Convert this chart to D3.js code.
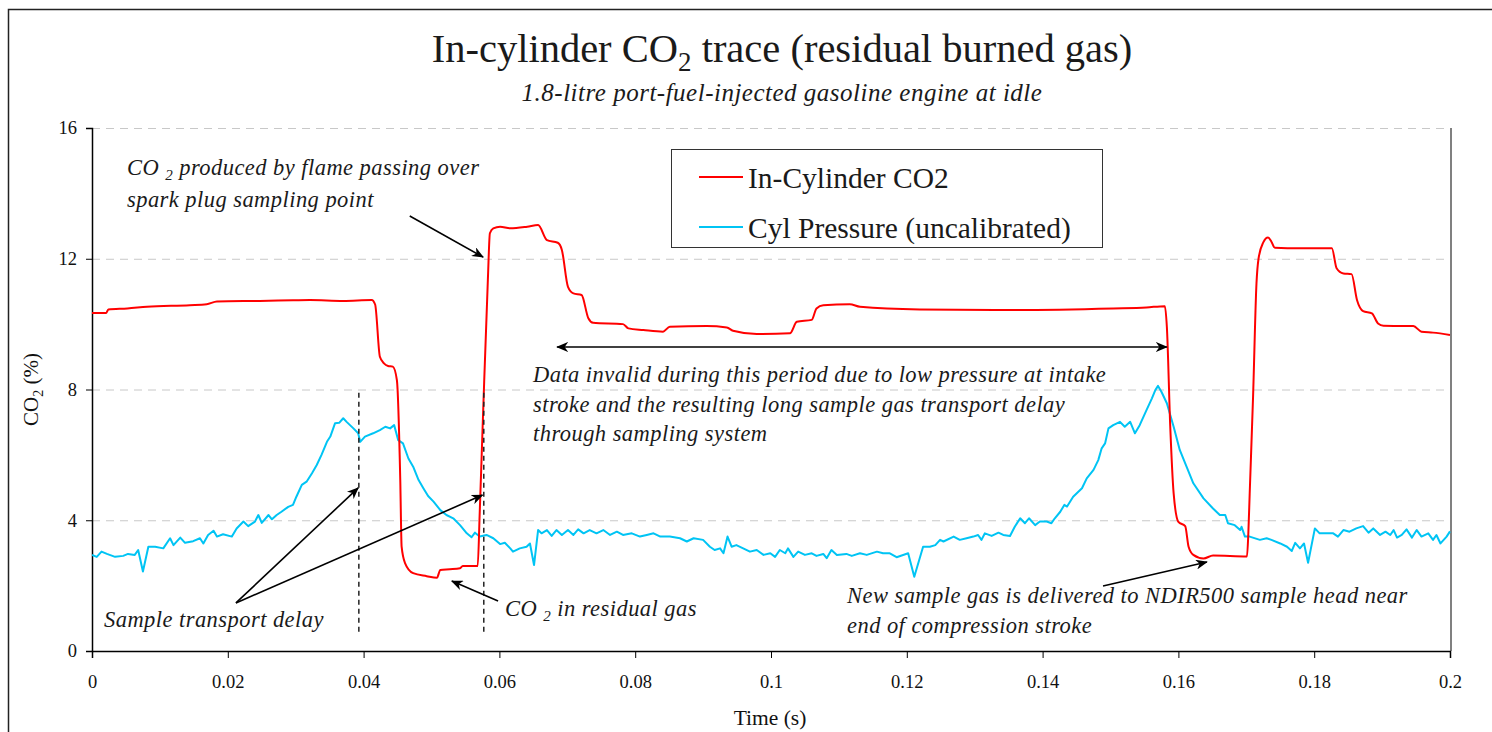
<!DOCTYPE html>
<html>
<head>
<meta charset="utf-8">
<script src="https://cdn.jsdelivr.net/npm/d3@7"></script>
<style>
  html, body { margin: 0; padding: 0; background: #fff; }
  svg { display: block; font-family: "Liberation Serif", "Times New Roman", serif; }
</style>
</head>
<body>
<svg id="chart" width="1492" height="732"></svg>
<script>
// ---------------- DATA ----------------
const xTicks = [0, 0.02, 0.04, 0.06, 0.08, 0.1, 0.12, 0.14, 0.16, 0.18, 0.2];
const xTickLabels = ["0", "0.02", "0.04", "0.06", "0.08", "0.1", "0.12", "0.14", "0.16", "0.18", "0.2"];
const yTicks = [0, 4, 8, 12, 16];
const yTickLabels = ["0", "4", "8", "12", "16"];

const seriesNames = ["In-Cylinder CO2", "Cyl Pressure (uncalibrated)"];

// In-cylinder CO2 (%) : time (s)
const co2Time = [0, 0.0021, 0.0024, 0.0052, 0.0081, 0.0144, 0.0169, 0.0184, 0.0247, 0.0296, 0.0321, 0.0370, 0.0412,
  0.0417, 0.0424, 0.0430, 0.0436, 0.0443, 0.0449, 0.0454, 0.0456, 0.0461, 0.0473, 0.0493, 0.0508, 0.0513, 0.0527,
  0.0542, 0.0546, 0.0568, 0.0571, 0.0576, 0.0583, 0.0586, 0.0591, 0.0601, 0.0616, 0.0641, 0.0657, 0.0670, 0.0686,
  0.0692, 0.0701, 0.0709, 0.0721, 0.0731, 0.0738, 0.0782, 0.0790, 0.0812, 0.0841, 0.0851, 0.0905, 0.0935, 0.0944,
  0.0979, 0.1028, 0.1038, 0.1060, 0.1067, 0.1077, 0.1116, 0.1131, 0.1219, 0.1356, 0.1504, 0.1553, 0.1580, 0.1583,
  0.1588, 0.1593, 0.1600, 0.1610, 0.1615, 0.1622, 0.1637, 0.1651, 0.1701, 0.1703, 0.1705, 0.1710, 0.1715, 0.1718,
  0.1725, 0.1732, 0.1737, 0.1742, 0.1779, 0.1826, 0.1833, 0.1843, 0.1855, 0.1863, 0.1872, 0.1885, 0.1894, 0.1902,
  0.1946, 0.1958, 0.1975, 0.2000];
const co2Values = [10.34, 10.34, 10.45, 10.48, 10.53, 10.58, 10.61, 10.69, 10.71, 10.73, 10.74, 10.71, 10.74,
  10.6, 9.0, 8.8, 8.72, 8.70, 8.29, 5.23, 3.19, 2.69, 2.38, 2.29, 2.24, 2.48, 2.50,
  2.53, 2.60, 2.60, 4.22, 7.28, 11.35, 12.78, 12.93, 12.98, 12.93, 12.98, 13.03, 12.57, 12.49,
  12.27, 11.14, 10.94, 10.89, 10.18, 10.04, 10.00, 9.87, 9.82, 9.77, 9.92, 9.94, 9.90, 9.80,
  9.70, 9.72, 10.07, 10.13, 10.48, 10.58, 10.61, 10.53, 10.45, 10.43, 10.48, 10.51, 10.55, 9.92,
  6.86, 4.82, 3.95, 3.82, 3.19, 2.94, 2.83, 2.92, 2.89, 3.6, 4.82, 7.8, 11.25, 12.0,
  12.5, 12.65, 12.52, 12.34, 12.32, 12.32, 11.71, 11.55, 11.53, 10.74, 10.40, 10.33, 10.02, 9.95,
  9.94, 9.77, 9.74, 9.67];

// Cylinder pressure (uncalibrated, plotted on CO2 axis) : time (s)
const pressTime = [0, 0.0007, 0.0014, 0.0022, 0.0034, 0.0046, 0.0053, 0.0063, 0.0068, 0.0075, 0.0083, 0.0093, 0.0105,
  0.0115, 0.0120, 0.0130, 0.0137, 0.0149, 0.0159, 0.0164, 0.0171, 0.0179, 0.0184, 0.0193, 0.0206, 0.0213, 0.0223,
  0.0230, 0.0240, 0.0245, 0.0250, 0.0260, 0.0265, 0.0272, 0.0279, 0.0289, 0.0296, 0.0301, 0.0309, 0.0316, 0.0324,
  0.0331, 0.0338, 0.0346, 0.0351, 0.0358, 0.0364, 0.0370, 0.0375, 0.0385, 0.0392, 0.0395, 0.0402, 0.0414, 0.0424,
  0.0432, 0.0439, 0.0445, 0.0451, 0.0458, 0.0466, 0.0473, 0.0481, 0.0488, 0.0495, 0.0503, 0.0513, 0.0522, 0.0532,
  0.0542, 0.0552, 0.0559, 0.0564, 0.0571, 0.0581, 0.0591, 0.0601, 0.0608, 0.0616, 0.0620, 0.0630, 0.0640, 0.0645,
  0.0651, 0.0657, 0.0662, 0.0670, 0.0677, 0.0684, 0.0692, 0.0701, 0.0709, 0.0716, 0.0724, 0.0733, 0.0743, 0.0753,
  0.0763, 0.0773, 0.0782, 0.0795, 0.0807, 0.0817, 0.0827, 0.0837, 0.0851, 0.0866, 0.0876, 0.0886, 0.0900, 0.0910,
  0.0917, 0.0925, 0.0930, 0.0936, 0.0942, 0.0949, 0.0959, 0.0969, 0.0979, 0.0989, 0.0999, 0.1006, 0.1013, 0.1021,
  0.1025, 0.1033, 0.1040, 0.1050, 0.1060, 0.1067, 0.1077, 0.1082, 0.1089, 0.1097, 0.1111, 0.1119, 0.1131, 0.1141,
  0.1156, 0.1165, 0.1175, 0.1185, 0.1202, 0.1211, 0.1224, 0.1234, 0.1242, 0.1249, 0.1254, 0.1269, 0.1278, 0.1288,
  0.1298, 0.1305, 0.1310, 0.1315, 0.1325, 0.1335, 0.1342, 0.1352, 0.1359, 0.1367, 0.1374, 0.1380, 0.1389, 0.1396,
  0.1406, 0.1413, 0.1418, 0.1426, 0.1432, 0.1436, 0.1445, 0.1458, 0.1465, 0.1475, 0.1482, 0.1487, 0.1492, 0.1497,
  0.1504, 0.1514, 0.1521, 0.1529, 0.1536, 0.1543, 0.1553, 0.1561, 0.1566, 0.1570, 0.1575, 0.1583, 0.1593, 0.1602,
  0.1612, 0.1622, 0.1637, 0.1651, 0.1661, 0.1669, 0.1673, 0.1683, 0.1691, 0.1693, 0.1698, 0.1705, 0.1720, 0.1730,
  0.1737, 0.1750, 0.1760, 0.1767, 0.1772, 0.1779, 0.1785, 0.1791, 0.1801, 0.1808, 0.1828, 0.1835, 0.1843, 0.1852,
  0.1862, 0.1872, 0.1880, 0.1887, 0.1897, 0.1905, 0.1912, 0.1917, 0.1922, 0.1929, 0.1936, 0.1944, 0.1951, 0.1958,
  0.1968, 0.1975, 0.1980, 0.1986, 0.1995, 0.2000];
const pressValues = [2.94, 2.88, 3.04, 2.97, 2.88, 2.91, 2.97, 2.94, 3.09, 2.43, 3.19, 3.19, 3.14,
  3.45, 3.24, 3.47, 3.31, 3.36, 3.45, 3.29, 3.55, 3.68, 3.50, 3.57, 3.50, 3.75, 3.96,
  3.82, 3.96, 4.16, 3.92, 4.16, 4.03, 4.16, 4.26, 4.41, 4.47, 4.72, 5.08, 5.18, 5.44,
  5.69, 6.00, 6.40, 6.56, 6.97, 6.98, 7.12, 7.01, 6.81, 6.66, 6.40, 6.56, 6.66, 6.76,
  6.86, 6.81, 6.91, 6.45, 6.35, 5.89, 5.64, 5.23, 4.98, 4.74, 4.57, 4.31, 4.16, 4.06,
  3.85, 3.60, 3.48, 3.62, 3.50, 3.55, 3.45, 3.27, 3.31, 3.14, 3.04, 3.14, 3.19, 3.29,
  2.63, 3.70, 3.60, 3.70, 3.52, 3.70, 3.55, 3.70, 3.55, 3.72, 3.60, 3.70, 3.60, 3.70,
  3.55, 3.65, 3.55, 3.60, 3.50, 3.55, 3.60, 3.50, 3.50, 3.45, 3.35, 3.45, 3.40, 3.19,
  3.09, 3.14, 2.99, 3.50, 3.19, 3.24, 3.14, 3.04, 3.09, 2.94, 2.99, 2.88, 3.09, 2.99,
  3.14, 2.88, 3.04, 2.94, 2.99, 2.91, 2.97, 2.84, 3.09, 2.94, 2.97, 2.91, 2.99, 2.94,
  3.04, 2.99, 2.99, 2.87, 2.99, 2.27, 3.19, 3.19, 3.24, 3.40, 3.35, 3.50, 3.40, 3.45,
  3.50, 3.55, 3.40, 3.60, 3.52, 3.62, 3.55, 3.52, 3.80, 4.06, 3.91, 4.06, 3.85, 3.96,
  3.96, 3.91, 4.06, 4.26, 4.47, 4.42, 4.72, 4.98, 5.28, 5.54, 5.84, 6.20, 6.35, 6.81,
  6.91, 7.01, 6.86, 7.01, 6.66, 6.91, 7.37, 7.73, 7.98, 8.11, 7.93, 7.58, 6.86, 6.15,
  5.64, 5.13, 4.67, 4.36, 4.16, 4.16, 3.91, 3.85, 3.70, 3.80, 3.50, 3.50, 3.40, 3.45,
  3.40, 3.29, 3.19, 3.06, 3.31, 3.14, 3.29, 2.70, 3.75, 3.60, 3.60, 3.50, 3.70, 3.65,
  3.75, 3.82, 3.62, 3.75, 3.55, 3.65, 3.55, 3.70, 3.47, 3.55, 3.72, 3.47, 3.70, 3.50,
  3.60, 3.40, 3.55, 3.29, 3.50, 3.66];

// ---------------- LAYOUT ----------------
const W = 1492, H = 732;
const plot = { left: 92, right: 1450, top: 128, bottom: 651 };
const colors = { co2: "#ff0000", press: "#00c4f4" };

const svg = d3.select("#chart");
const x = d3.scaleLinear().domain([0, 0.2]).range([plot.left, plot.right]);
const y = d3.scaleLinear().domain([0, 16]).range([plot.bottom, plot.top]);

// outer chart frame (cropped on right/bottom)
svg.append("path").attr("d", `M8.5,${H + 2} L8.5,9.5 L${W + 2},9.5`)
  .attr("fill", "none").attr("stroke", "#222").attr("stroke-width", 1.5);

// gridlines
svg.append("g").selectAll("line").data(yTicks.filter(d => d > 0)).join("line")
  .attr("x1", plot.left).attr("x2", plot.right)
  .attr("y1", d => y(d) + 0.5).attr("y2", d => y(d) + 0.5)
  .attr("stroke", "#c8c8c8").attr("stroke-width", 1).attr("stroke-dasharray", "8,6");

// right plot border
svg.append("line").attr("x1", plot.right + 1).attr("x2", plot.right + 1)
  .attr("y1", plot.top).attr("y2", plot.bottom)
  .attr("stroke", "#808080").attr("stroke-width", 2);

// axes
const xAxis = d3.axisBottom(x).tickValues(xTicks).tickFormat((d, i) => xTickLabels[i]).tickSizeOuter(0).tickSize(7).tickPadding(17);
const gx = svg.append("g").attr("transform", `translate(0,${plot.bottom})`).call(xAxis);
gx.select(".domain").attr("stroke", "#000").attr("stroke-width", 1.5);
gx.selectAll(".tick line").attr("stroke", "#000");
gx.selectAll(".tick text").attr("font-size", 18.5).attr("fill", "#111").attr("font-family", "Liberation Serif");

const yAxis = d3.axisLeft(y).tickValues(yTicks).tickFormat((d, i) => yTickLabels[i]).tickSizeOuter(0).tickSize(6).tickPadding(9);
const gy = svg.append("g").attr("transform", `translate(${plot.left},0)`).call(yAxis);
gy.select(".domain").attr("stroke", "#000").attr("stroke-width", 1.5);
gy.selectAll(".tick line").attr("stroke", "#000");
gy.selectAll(".tick text").attr("font-size", 18.5).attr("fill", "#111").attr("font-family", "Liberation Serif");

// axis titles
svg.append("text").attr("x", 770).attr("y", 725).attr("text-anchor", "middle")
  .attr("font-size", 21.5).attr("fill", "#111").text("Time (s)");
const yl = svg.append("text").attr("transform", `translate(38,${(plot.top + plot.bottom) / 2}) rotate(-90)`)
  .attr("text-anchor", "middle").attr("font-size", 21).attr("fill", "#111");
yl.append("tspan").text("CO");
yl.append("tspan").attr("font-size", 14).attr("dy", 5).text("2");
yl.append("tspan").attr("dy", -5).text(" (%)");

// title
const title = svg.append("text").attr("x", 782).attr("y", 62).attr("text-anchor", "middle")
  .attr("font-size", 40.5).attr("fill", "#1a1a1a");
title.append("tspan").text("In-cylinder CO");
title.append("tspan").attr("font-size", 27).attr("dy", 9).text("2");
title.append("tspan").attr("dy", -9).text(" trace (residual burned gas)");
svg.append("text").attr("x", 782).attr("y", 101).attr("text-anchor", "middle")
  .attr("font-size", 25).attr("font-style", "italic").attr("fill", "#1a1a1a").attr("letter-spacing", 0.5)
  .text("1.8-litre port-fuel-injected gasoline engine at idle");

// series lines
const co2Data = co2Time.map((t, i) => [t, co2Values[i]]);
const pressData = pressTime.map((t, i) => [t, pressValues[i]]);
svg.append("clipPath").attr("id", "clip").append("rect")
  .attr("x", plot.left).attr("y", plot.top - 10).attr("width", plot.right - plot.left + 1).attr("height", plot.bottom - plot.top + 10);

svg.append("path").datum(pressData)
  .attr("d", d3.line().x(d => x(d[0])).y(d => y(d[1])).curve(d3.curveLinear))
  .attr("fill", "none").attr("stroke", colors.press).attr("stroke-width", 2).attr("stroke-linejoin", "round")
  .attr("clip-path", "url(#clip)");
svg.append("path").datum(co2Data)
  .attr("d", d3.line().x(d => x(d[0])).y(d => y(d[1])).curve(d3.curveMonotoneX))
  .attr("fill", "none").attr("stroke", colors.co2).attr("stroke-width", 2).attr("stroke-linejoin", "round")
  .attr("clip-path", "url(#clip)");

// legend
const lg = svg.append("g");
lg.append("rect").attr("x", 671.5).attr("y", 149.5).attr("width", 431).attr("height", 98)
  .attr("fill", "#fff").attr("stroke", "#333").attr("stroke-width", 1);
[[colors.co2, 177], [colors.press, 227]].forEach(([c, yy], i) => {
  lg.append("line").attr("x1", 699).attr("x2", 743).attr("y1", yy).attr("y2", yy)
    .attr("stroke", c).attr("stroke-width", 2);
  lg.append("text").attr("x", 748).attr("y", yy + 11).attr("font-size", 29.5).attr("fill", "#1a1a1a").text(seriesNames[i]);
});

// ---------------- ANNOTATIONS ----------------
const defs = svg.append("defs");
defs.append("marker").attr("id", "ah").attr("viewBox", "0 0 12 10").attr("refX", 11).attr("refY", 5)
  .attr("markerWidth", 12).attr("markerHeight", 10).attr("markerUnits", "userSpaceOnUse").attr("orient", "auto-start-reverse")
  .append("path").attr("d", "M0,0 L12,5 L0,10 L3.5,5 Z").attr("fill", "#000");

function arrow(t1, v1, t2, v2, both) {
  const l = svg.append("line").attr("x1", x(t1)).attr("y1", y(v1)).attr("x2", x(t2)).attr("y2", y(v2))
    .attr("stroke", "#000").attr("stroke-width", 1.6).attr("marker-end", "url(#ah)");
  if (both) l.attr("marker-start", "url(#ah)");
}

// dashed transport-delay markers
[0.0393, 0.0577].forEach(t => {
  svg.append("line").attr("x1", x(t)).attr("x2", x(t)).attr("y1", y(7.9)).attr("y2", y(0.5))
    .attr("stroke", "#222").attr("stroke-width", 1.5).attr("stroke-dasharray", "5,4");
});

arrow(0.0468, 13.31, 0.0576, 12.05);           // flame arrow
arrow(0.0212, 1.47, 0.0392, 4.99);             // transport delay 1
arrow(0.0212, 1.47, 0.0575, 4.77);             // transport delay 2
arrow(0.0598, 1.53, 0.0530, 2.14);             // residual gas
arrow(0.0685, 9.30, 0.1583, 9.30, true);       // invalid period
arrow(0.1489, 1.99, 0.1642, 2.72);             // new sample gas

const annFont = 22.5;
function note(px, py, parts) {
  const t = svg.append("text").attr("x", px).attr("y", py).attr("font-size", annFont)
    .attr("font-style", "italic").attr("fill", "#1a1a1a").attr("letter-spacing", 0.45);
  parts.forEach(p => {
    if (p.sub) t.append("tspan").attr("font-size", 15).attr("dy", 5).text(p.sub);
    else t.append("tspan").attr("dy", p.up ? -5 : 0).text(p.text);
  });
}
note(127, 175, [{ text: "CO " }, { sub: "2" }, { text: "  produced by flame passing over", up: true }]);
note(127, 207, [{ text: "spark plug sampling point" }]);
note(104, 627, [{ text: "Sample transport delay" }]);
note(505, 616, [{ text: "CO " }, { sub: "2" }, { text: "  in residual gas", up: true }]);
note(533, 382, [{ text: "Data invalid during this period due to low pressure at intake" }]);
note(533, 412, [{ text: "stroke and the resulting long sample gas transport delay" }]);
note(533, 441, [{ text: "through sampling system" }]);
note(847, 603, [{ text: "New sample gas is delivered to NDIR500 sample head near" }]);
note(847, 633, [{ text: "end of compression stroke" }]);
</script>
</body>
</html>
